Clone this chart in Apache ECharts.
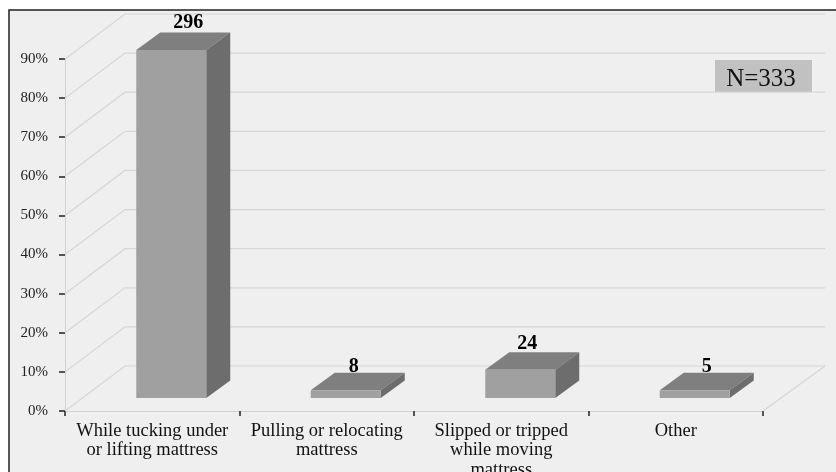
<!DOCTYPE html>
<html><head><meta charset="utf-8">
<style>html,body{margin:0;padding:0;background:#fff;overflow:hidden}#c{width:836px;height:472px}</style>
<script src="https://cdn.jsdelivr.net/npm/echarts@6/dist/echarts.min.js"></script>
</head><body><div id="c"></div>
<script>
const categories = ['While tucking under\nor lifting mattress','Pulling or relocating\nmattress','Slipped or tripped\nwhile moving\nmattress','Other'];
const counts = [296, 8, 24, 5];
const percents = [89, 2, 7.2, 2];
const ticks = [0,10,20,30,40,50,60,70,80,90];
const note = 'N=333';

const labelShift = [17, 8, 7, 12];
const labelDrop = [3, 7, 4, 7];
const SERIF = '"Liberation Serif","Times New Roman",serif';
const wallDX = 60, wallDY = -45, wallExtra = 2;
const barDX = 24, barDY = -17.5, barFloorX = 19, barFloorY = -13, barW = 70;

const chart = echarts.init(document.getElementById('c'), null, {renderer:'canvas'});
chart.setOption({
  animation:false,
  backgroundColor:'#ffffff',
  grid:{left:65, right:73, top:59, bottom:61, containLabel:false, outerBoundsMode:'none'},
  xAxis:{type:'category', data:categories,
    axisLine:{show:true,lineStyle:{color:'#d2d2d2',width:1}},
    axisTick:{show:true,length:5,lineStyle:{color:'#222',width:1.5}},
    axisLabel:{color:'#111',fontFamily:SERIF,fontSize:18.5,lineHeight:19.5,margin:10,interval:0,hideOverlap:false},
    splitLine:{show:false}},
  yAxis:{type:'value',min:0,max:90,interval:10,
    axisLine:{show:true,lineStyle:{color:'#d2d2d2',width:1}},
    axisTick:{show:true,length:6,lineStyle:{color:'#222',width:1.5}},
    axisLabel:{color:'#222',fontFamily:SERIF,fontSize:15,margin:17,formatter:'{value}%'},
    splitLine:{show:false}},
  graphic:[
    {type:'rect',z:-10,shape:{x:9,y:10,width:840,height:480},style:{fill:'#efefef',stroke:'#222',lineWidth:1.5}},
    {type:'group',z:50,children:[
      {type:'rect',shape:{x:715,y:60,width:97,height:32},style:{fill:'#c1c1c1'}},
      {type:'text',style:{x:761,y:79,text:note,fill:'#111',font:'25px '+SERIF,textAlign:'center',textVerticalAlign:'middle'}}
    ]}
  ],
  series:[
    {type:'custom',name:'walls',coordinateSystem:'cartesian2d',z:1,clip:false,silent:true,
     data:ticks.map(t=>[0,t]),
     renderItem(params,api){
       const halfBand=api.size([1,0])[0]/2;
       const p=api.coord([0,api.value(1)]);
       const x0=p[0]-halfBand, y0=p[1];
       const xEnd=api.coord([categories.length-1,0])[0]+halfBand+wallExtra;
       return {type:'polyline',shape:{points:[[x0,y0],[x0+wallDX,y0+wallDY],[xEnd+wallDX,y0+wallDY]]},
         style:{fill:null,stroke:'#d6d6d6',lineWidth:1.2}};
     }},
    {type:'custom',name:'floorEdge',coordinateSystem:'cartesian2d',z:1,clip:false,silent:true,
     data:[[categories.length-1,0]],
     renderItem(params,api){
       const halfBand=api.size([1,0])[0]/2;
       const p=api.coord([api.value(0),0]);
       const x=p[0]+halfBand;
       return {type:'line',shape:{x1:x,y1:p[1],x2:x+wallDX+wallExtra,y2:p[1]+wallDY},style:{stroke:'#d6d6d6',lineWidth:1.2}};
     }},
    {type:'custom',name:'bars',coordinateSystem:'cartesian2d',z:5,clip:false,
     data:percents.map((v,i)=>[i,v,counts[i]]),
     encode:{x:0,y:1},
     renderItem(params,api){
       const i=api.value(0);
       const base=api.coord([i,0]), top=api.coord([i,api.value(1)]);
       const l=base[0]+barFloorX-barW/2, r=l+barW;
       const b=base[1]+barFloorY, t=b-(base[1]-top[1]);
       return {type:'group',children:[
         {type:'polygon',shape:{points:[[l,t],[r,t],[r+barDX,t+barDY],[l+barDX,t+barDY]]},style:{fill:'#7f7f7f'}},
         {type:'polygon',shape:{points:[[r,t],[r+barDX,t+barDY],[r+barDX,b+barDY],[r,b]]},style:{fill:'#6d6d6d'}},
         {type:'rect',shape:{x:l,y:t,width:barW,height:b-t},style:{fill:'#a0a0a0'}},
         {type:'text',z2:10,style:{x:(l+r)/2+labelShift[i],y:t+barDY-2.5+labelDrop[i],text:String(api.value(2)),
            fill:'#000',font:'bold 20px '+SERIF,textAlign:'center',textVerticalAlign:'bottom'}}
       ]};
     }}
  ]
});
</script></body></html>
